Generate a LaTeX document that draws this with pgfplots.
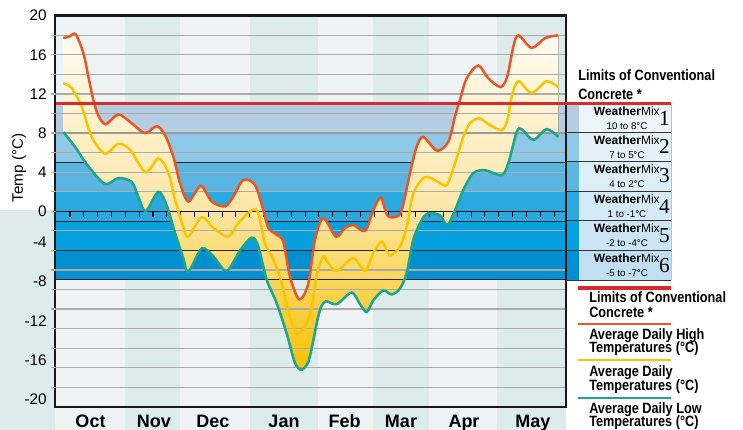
\documentclass[border=0pt]{standalone}
\usepackage{fontspec}
\setmainfont{Liberation Sans}
\newfontfamily\cnd[FakeStretch=0.85]{Liberation Sans}
\newfontfamily\serifnum{Liberation Serif}
\usepackage{pgfplots}
\pgfplotsset{compat=1.18}
\usepgfplotslibrary{fillbetween}
\definecolor{colL}{HTML}{EFF3F4}
\definecolor{colD}{HTML}{DDEBEB}
\definecolor{bandA}{HTML}{B4CDE0}
\definecolor{bandB}{HTML}{8DC9E6}
\definecolor{bandC}{HTML}{5BB5E1}
\definecolor{bandD}{HTML}{2AA9E1}
\definecolor{bandE}{HTML}{05A0DD}
\definecolor{bandF}{HTML}{0090D1}
\definecolor{boxA}{HTML}{EEF5FA}
\definecolor{boxB}{HTML}{E5F1F9}
\definecolor{boxC}{HTML}{DCEEF8}
\definecolor{boxD}{HTML}{D4EAF6}
\definecolor{boxE}{HTML}{CBE5F4}
\definecolor{boxF}{HTML}{C2DFF1}
\definecolor{limC}{HTML}{D92B2B}
\definecolor{hiC}{HTML}{E5582C}
\definecolor{meanC}{HTML}{F7C600}
\definecolor{loC}{HTML}{1EA58B}
\definecolor{gridC}{HTML}{ABABAB}
\definecolor{fT}{HTML}{FFFCF0}
\definecolor{fM}{HTML}{FDE7AC}
\definecolor{fB}{HTML}{F8C200}

\pgfplotstableread{
x y
63.3 17.7
70 17.9
75.7 18.1
83.3 16.2
88.3 13.8
93.3 11.4
98.3 9.8
105.7 8.9
118.3 9.9
131.7 9.0
145 8.0
156.7 8.7
165 7.8
173.3 5.6
180 2.9
188.3 1.0
200.7 2.6
211.7 1.0
225 0.5
233.3 1.5
243.3 3.2
255 2.7
263.3 0.1
268.3 -1.7
276.7 -2.4
283.3 -3.1
290 -6.7
299.3 -9.0
308.3 -7.4
315 -2.9
323.3 -0.7
336 -2.6
345 -1.7
353.3 -1.4
365 -2.0
373.3 0.1
380.7 1.4
387.3 -0.4
395 -0.6
401.7 0.1
410 3.9
416.7 6.6
423.3 7.6
437 6.2
448.3 7.1
455 9.7
460 11.4
466.7 13.6
478.3 14.9
488.3 13.6
500.7 12.7
507.3 13.8
513.3 16.8
518.3 18.0
531.7 16.7
545 17.7
558.3 18.0
}\hightab

\pgfplotstableread{
x y
63.3 13.1
71.7 12.6
81.7 10.7
91.7 7.6
105 5.9
118.3 6.9
130 6.3
145.7 4.0
158.3 5.4
168.3 4.0
175 1.2
183.3 -1.6
188.3 -2.6
201.7 -0.6
213.3 -1.7
228.3 -2.6
238.3 -1.2
251.7 0.1
258.3 -0.2
265 -3.3
271.7 -4.6
280 -6.7
290 -10.8
296.7 -12.5
305 -11.8
311.7 -9.8
316.7 -6.5
323.3 -4.6
328.3 -5.3
336.7 -6.1
353.3 -4.8
365 -6.1
373.3 -4.3
381.7 -3.1
390 -4.5
400 -3.6
406.7 -1.6
413.3 1.8
425 3.5
438 3.0
446.7 2.7
455 4.9
463.3 7.6
470 9.0
479.3 9.5
490 8.8
501.7 8.3
507.3 9.3
511.7 11.7
518.3 13.3
531.7 12.1
546.7 13.3
558.3 12.7
}\meantab

\pgfplotstableread{
x y
63.3 8.1
75 6.6
88.3 4.6
105 2.8
118.3 3.4
131.7 3.0
138.3 1.5
145.7 0.0
158.3 2.0
166.7 0.6
175 -2.2
183.3 -4.8
188.3 -6.2
201.7 -3.8
213.3 -4.6
226.7 -6.1
240 -4.0
251.7 -2.7
258.3 -3.6
266.7 -7.0
276.7 -9.4
286.7 -12.5
295 -15.5
301.7 -16.2
308.3 -15.4
313.3 -13.2
317 -11.3
321 -9.8
326 -9.2
336.7 -9.5
351.7 -8.3
360 -9.5
366.7 -10.3
373.3 -9.1
383.3 -8.1
391.7 -8.5
400 -7.9
406.7 -6.3
413.3 -2.9
421.7 -0.9
428.3 -0.2
440 -0.4
447.3 -1.4
455 0.1
463.3 2.2
473.3 3.9
485 4.2
501.7 3.7
508.3 4.9
516.7 8.1
521.7 8.4
533.3 7.3
546.7 8.4
558.3 7.6
}\lowtab

\begin{document}
\begin{tikzpicture}
\begin{axis}[
  set layers,
  x=0.75pt, y=7.335pt,
  xmin=55, xmax=566, ymin=-20, ymax=20,
  clip=false,
  axis line style={line width=1.8pt, black!90},
  xtick=\empty,
  ytick={0,4,...,20},
  extra y ticks={-4,-8,...,-20},
  extra y tick style={yticklabel style={yshift=6pt}},
  major tick length=0pt,
  yticklabel style={font=\fontsize{11.5}{13}\selectfont, anchor=east, inner sep=0pt, xshift=-6pt},
  /pgf/number format/assume math mode=true,
]
\begin{pgfonlayer}{axis background}
\fill[colL] (axis cs:55,20) rectangle (axis cs:125,-22.4);
\fill[colD] (axis cs:125,20) rectangle (axis cs:180,-22.4);
\fill[colL] (axis cs:180,20) rectangle (axis cs:250,-22.4);
\fill[colD] (axis cs:250,20) rectangle (axis cs:318,-22.4);
\fill[colL] (axis cs:318,20) rectangle (axis cs:373,-22.4);
\fill[colD] (axis cs:373,20) rectangle (axis cs:429,-22.4);
\fill[colL] (axis cs:429,20) rectangle (axis cs:497,-22.4);
\fill[colD] (axis cs:497,20) rectangle (axis cs:566,-22.4);
\fill[colD] (axis cs:0,0.1) rectangle (axis cs:55,-22.4);
\fill[bandA] (axis cs:55,11) rectangle (axis cs:566,8);
\fill[bandB] (axis cs:55,8) rectangle (axis cs:566,5);
\fill[bandC] (axis cs:55,5) rectangle (axis cs:566,2);
\fill[bandD] (axis cs:55,2) rectangle (axis cs:566,-1);
\fill[bandE] (axis cs:55,-1) rectangle (axis cs:566,-4);
\fill[bandF] (axis cs:55,-4) rectangle (axis cs:566,-7);
\draw[black!85, line width=0.8pt] (axis cs:55,5) -- (axis cs:566,5);
\draw[black!85, line width=0.8pt] (axis cs:55,-1) -- (axis cs:566,-1);
\end{pgfonlayer}
% grid lines (over the fill)
\pgfplotsinvokeforeach{-18,-16,...,18}{
  \draw[gridC, line width=0.95pt] (axis cs:51.5,#1) -- (axis cs:565,#1);
}
\draw[black!40, line width=1.5pt] (axis cs:56,8) -- (axis cs:565,8);
\draw[black!85, line width=0.9pt] (axis cs:56,-4) -- (axis cs:565,-4);
\draw[black!85, line width=1pt] (axis cs:56,-7) -- (axis cs:565,-7);
\draw[black!90, line width=1.1pt] (axis cs:56,0) -- (axis cs:565,0);
\pgfplotsinvokeforeach{0,...,35}{
  \draw[black, line width=0.8pt] (axis cs:{70+13.83*#1},0) -- (axis cs:{70+13.83*#1},-0.62);
}
% curves
\addplot[name path=H, draw=hiC, line width=1.9pt, smooth, tension=0.5] table {\hightab};
\addplot[name path=L, draw=loC, line width=1.9pt, smooth, tension=0.5] table {\lowtab};
\addplot[draw=meanC, line width=1.9pt, smooth, tension=0.5] table {\meantab};
\addplot[top color=fT, bottom color=fB, middle color=fM, draw=none] fill between[of=H and L];
% labels
\node[rotate=90, font=\fontsize{11.4}{13}\selectfont] at (axis cs:19,4.43) {Temp (°C)};
\node[anchor=base, font=\bfseries\fontsize{13.5}{15}\selectfont] at (axis cs:90.5,-22.06) {Oct};
\node[anchor=base, font=\bfseries\fontsize{13.5}{15}\selectfont] at (axis cs:154,-22.06) {Nov};
\node[anchor=base, font=\bfseries\fontsize{13.5}{15}\selectfont] at (axis cs:213,-22.06) {Dec};
\node[anchor=base, font=\bfseries\fontsize{13.5}{15}\selectfont] at (axis cs:284,-22.06) {Jan};
\node[anchor=base, font=\bfseries\fontsize{13.5}{15}\selectfont] at (axis cs:344.5,-22.06) {Feb};
\node[anchor=base, font=\bfseries\fontsize{13.5}{15}\selectfont] at (axis cs:401,-22.06) {Mar};
\node[anchor=base, font=\bfseries\fontsize{13.5}{15}\selectfont] at (axis cs:464,-22.06) {Apr};
\node[anchor=base, font=\bfseries\fontsize{13.5}{15}\selectfont] at (axis cs:533,-22.06) {May};
\coordinate (TL) at (axis cs:0,21.605);
\end{axis}

\begin{scope}[shift={(TL)}, x=0.75pt, y=-0.75pt]
% WeatherMix boxes
\fill[bandA] (567,103.7) rectangle (579,132);  \fill[boxA] (579,103.7) rectangle (671,132);
\fill[bandB] (567,132) rectangle (579,161);    \fill[boxB] (579,132) rectangle (671,161);
\fill[bandC] (567,161) rectangle (579,191);    \fill[boxC] (579,161) rectangle (671,191);
\fill[bandD] (567,191) rectangle (579,220);    \fill[boxD] (579,191) rectangle (671,220);
\fill[bandE] (567,220) rectangle (579,250);    \fill[boxE] (579,220) rectangle (671,250);
\fill[bandF] (567,250) rectangle (579,280);    \fill[boxF] (579,250) rectangle (671,280);
\foreach \yy in {132,161,191,220,250,280} {
  \draw[black!80, line width=0.7pt] (567,\yy) -- (671,\yy);
}
\draw[black!25, line width=0.6pt] (671,103.7) -- (671,280);
\foreach \t/\n/\s in {103.7/1/{10 to 8°C}, 132/2/{7 to 5°C}, 161/3/{4 to 2°C}, 191/4/{1 to -1°C}, 220/5/{-2 to -4°C}, 250/6/{-5 to -7°C}} {
  \node[anchor=base east, inner sep=0pt, font=\fontsize{9}{10}\selectfont] at (660,\t+12.2) {\textbf{Weather}Mix};
  \node[anchor=base, inner sep=0pt, font=\serifnum\fontsize{16}{16}\selectfont] at (664.5,\t+22) {\n};
  \node[anchor=base, inner sep=0pt, font=\fontsize{7.3}{8}\selectfont] at (627,\t+26.2) {\s};
}
% limit line
\draw[limC, line width=2.6pt] (56.5,103.7) -- (671,103.7);
\node[anchor=base west, inner sep=0pt, font=\cnd\bfseries\fontsize{11.2}{13}\selectfont] at (578,80.7) {Limits of Conventional};
\node[anchor=base west, inner sep=0pt, font=\cnd\bfseries\fontsize{11.2}{13}\selectfont] at (578,99.3) {Concrete *};
% legend
\draw[limC, line width=2.4pt] (578,288) -- (671,288);
\draw[hiC, line width=2.2pt] (578,324) -- (671,324);
\draw[meanC, line width=2.2pt] (578,360) -- (671,360);
\draw[loC, line width=2.2pt] (578,398) -- (671,398);
\foreach \yy/\tx in {302.7/{Limits of Conventional}, 317/{Concrete *}, 339/{Average Daily High}, 352.7/{Temperatures (°C)}, 376.7/{Average Daily}, 390/{Temperatures (°C)}, 413.3/{Average Daily Low}, 426.2/{Temperatures (°C)}} {
  \node[anchor=base west, inner sep=0pt, font=\cnd\bfseries\fontsize{11.2}{13}\selectfont] at (589,\yy) {\tx};
}
\end{scope}
\pgfresetboundingbox
\path[use as bounding box] (TL) rectangle ++(557.25pt,-321.75pt);
\end{tikzpicture}
\end{document}
